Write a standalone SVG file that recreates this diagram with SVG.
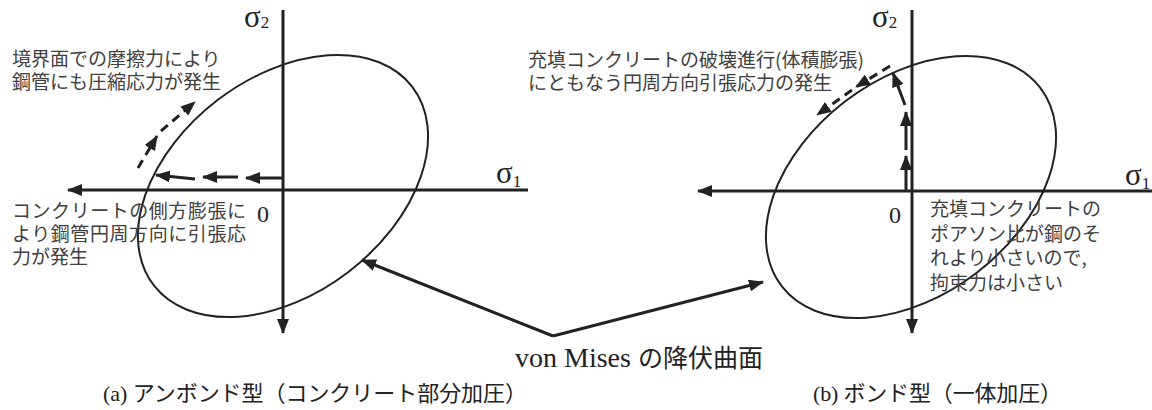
<svg xmlns="http://www.w3.org/2000/svg" width="1152" height="410" viewBox="0 0 1152 410">
<style>
.axis{stroke:#222;stroke-width:3;fill:none}
.ell{stroke:#222;stroke-width:2;fill:none}
.arr{stroke:#222;stroke-width:3;fill:none}
.dash{stroke:#222;stroke-width:3;fill:none;stroke-dasharray:9 6}
.note{font-family:"Noto Sans CJK JP",sans-serif;font-size:19px;fill:#404040}
.cap{font-family:"Liberation Serif","Noto Sans CJK JP",serif;font-size:22px;fill:#222}
.sym{font-family:"Liberation Serif",serif;fill:#222}
</style>
<defs>
<marker id="ah" viewBox="0 0 15 12" refX="14" refY="6" markerWidth="15" markerHeight="12" markerUnits="userSpaceOnUse" orient="auto">
<path d="M0,0 L15,6 L0,12 z" fill="#222"/>
</marker>
</defs>
<rect width="1152" height="410" fill="#fff"/>

<g id="left-diagram">
<line class="axis" x1="528" y1="190" x2="68" y2="190" marker-end="url(#ah)"/>
<line class="axis" x1="283" y1="10" x2="283" y2="333" marker-end="url(#ah)"/>
<ellipse class="ell" cx="283" cy="186" rx="163" ry="108" transform="rotate(-37.5 283 186)"/>
<text class="sym" x="244" y="27"><tspan font-size="31">σ</tspan><tspan font-size="17" dy="1">2</tspan></text>
<text class="sym" x="496" y="183"><tspan font-size="31">σ</tspan><tspan font-size="17" dy="4">1</tspan></text>
<text class="sym" x="257" y="222" font-size="24">0</text>
</g>

<g id="left-arrows">
<line class="arr" x1="282" y1="178" x2="246" y2="178" marker-end="url(#ah)"/>
<line class="arr" x1="238" y1="177" x2="203" y2="177" marker-end="url(#ah)"/>
<line class="arr" x1="195" y1="179" x2="156" y2="175" marker-end="url(#ah)"/>
<line class="dash" x1="138" y1="168" x2="157" y2="136" marker-end="url(#ah)"/>
<line class="dash" x1="161" y1="131" x2="195" y2="102" marker-end="url(#ah)"/>
</g>

<g id="right-diagram">
<line class="axis" x1="1152" y1="191" x2="698" y2="191" marker-end="url(#ah)"/>
<line class="axis" x1="912" y1="10" x2="912" y2="333" marker-end="url(#ah)"/>
<ellipse class="ell" cx="911" cy="187" rx="163" ry="108" transform="rotate(-37.5 911 187)"/>
<text class="sym" x="872" y="27"><tspan font-size="31">σ</tspan><tspan font-size="17" dy="1">2</tspan></text>
<text class="sym" x="1125" y="185"><tspan font-size="31">σ</tspan><tspan font-size="17" dy="4">1</tspan></text>
<text class="sym" x="889" y="223" font-size="24">0</text>
</g>

<g id="right-arrows">
<line class="arr" x1="906" y1="190" x2="906" y2="156" marker-end="url(#ah)"/>
<line class="arr" x1="906" y1="150" x2="906" y2="112" marker-end="url(#ah)"/>
<line class="arr" x1="905" y1="105" x2="893" y2="73" marker-end="url(#ah)"/>
<line class="dash" x1="890" y1="66" x2="856" y2="87" marker-end="url(#ah)"/>
<line class="dash" x1="852" y1="90" x2="817" y2="115" marker-end="url(#ah)"/>
</g>

<g id="connectors">
<line class="arr" x1="553" y1="336" x2="362" y2="260" marker-end="url(#ah)"/>
<line class="arr" x1="553" y1="336" x2="763" y2="282" marker-end="url(#ah)"/>
</g>

<g id="note-friction">
<text class="note" x="12" y="66">境界面での摩擦力により</text>
<text class="note" x="12" y="89">鋼管にも圧縮応力が発生</text>
</g>
<g id="note-lateral">
<text class="note" x="12" y="218" textLength="234">コンクリートの側方膨張に</text>
<text class="note" x="12" y="241" textLength="234">より鋼管円周方向に引張応</text>
<text class="note" x="12" y="264">力が発生</text>
</g>
<g id="note-fracture">
<text class="note" x="528" y="67">充填コンクリートの破壊進行(体積膨張)</text>
<text class="note" x="528" y="90">にともなう円周方向引張応力の発生</text>
</g>
<g id="note-poisson">
<text class="note" x="930" y="216">充填コンクリートの</text>
<text class="note" x="930" y="241">ポアソン比が鋼のそ</text>
<text class="note" x="930" y="265">れより小さいので,</text>
<text class="note" x="930" y="290">拘束力は小さい</text>
</g>

<g id="label-vonmises">
<text class="cap" x="515" y="367"><tspan font-size="28">von Mises </tspan><tspan font-size="25">の降伏曲面</tspan></text>
</g>
<g id="captions">
<text class="cap" x="103" y="401" textLength="424">(a) アンボンド型（コンクリート部分加圧）</text>
<text class="cap" x="813" y="401" textLength="249">(b) ボンド型（一体加圧）</text>
</g>
</svg>
